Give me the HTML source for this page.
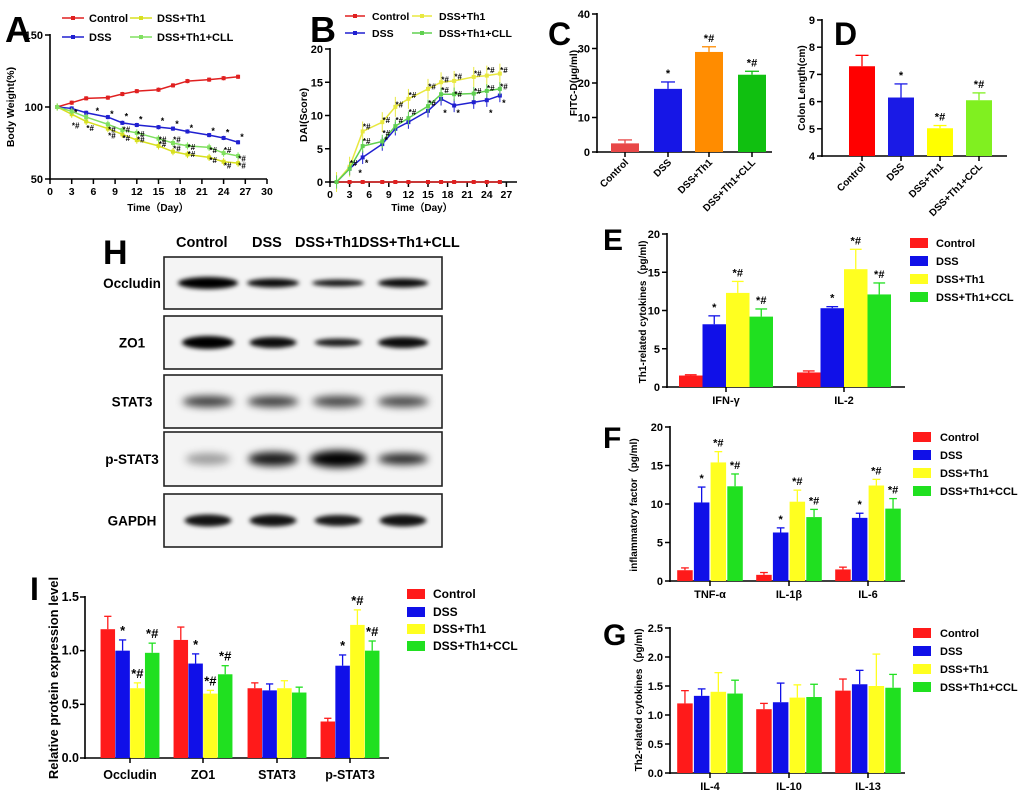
<!DOCTYPE html>
<html><head><meta charset="utf-8"><style>
body{margin:0;background:#fff}
svg{display:block;font-family:"Liberation Sans",Arial,sans-serif;font-weight:bold}
</style></head><body>
<svg id="s" width="1020" height="807" viewBox="0 0 1020 807" xmlns="http://www.w3.org/2000/svg">
<defs>
<filter id="bl" x="-30%" y="-100%" width="160%" height="300%"><feGaussianBlur stdDeviation="2.5 2"/></filter>
<filter id="bl2" x="-30%" y="-100%" width="160%" height="300%"><feGaussianBlur stdDeviation="4 4"/></filter>
</defs>
</svg>
<script>
const S=document.getElementById('s');const NS='http://www.w3.org/2000/svg';
function el(t,a,txt){const e=document.createElementNS(NS,t);for(const k in a)e.setAttribute(k,a[k]);if(txt!==undefined)e.textContent=txt;S.appendChild(e);return e;}
function line(x1,y1,x2,y2,c,w){el('line',{x1,y1,x2,y2,stroke:c||'#000','stroke-width':w||1.5});}
function text(x,y,t,sz,anchor,extra){const a=Object.assign({x,y,'font-size':sz||11,'text-anchor':anchor||'middle',fill:'#000'},extra||{});el('text',a,t);}
function yaxis(x,yT,yB,min,max,ticks,fmt,sz,gap){line(x,yT-1,x,yB+1,'#000',1.6);ticks.forEach(v=>{const y=yB-(v-min)/(max-min)*(yB-yT);line(x-5,y,x,y,'#000',1.5);text(x-(gap||7),y+4,fmt?fmt(v):String(v),sz||11,'end');});return v=>yB-(v-min)/(max-min)*(yB-yT);}
function big(x,y,t,sz){text(x,y,t,sz||34,'start',{'font-weight':'bold'});}
// ===== Panel A =====
big(5,42,'A',36);
(function(){const X=d=>50+d*(217/30);const Y=yaxis(50,35,179,50,150,[50,100,150]);
line(49,179,267,179,'#000',1.6);for(let d=0;d<=30;d+=3){line(X(d),179,X(d),184);text(X(d),195,String(d),10.5);}
text(158,211,'Time（Day）',10);
text(14,107,'Body Weight(%)',10.5,'middle',{transform:'rotate(-90 14 107)'});
const days=[1,3,5,8,10,12,15,17,19,22,24,26];
const ser=[['#e02020',[100,103,106,106.5,109,111,112,115,118,119,120,121],1.5],['#2020d0',[100,99,96,93,89,87.5,86,85,83,80.5,78.5,75.5],1.5],['#d8e020',[100,95,90,85,81,77,73,69,67,65,62,61],2.5],['#80e060',[100,97,93,88,84,82,78,75,73,72,68,66],2.5]];
ser.forEach(([c,v,e])=>{el('polyline',{points:days.map((d,i)=>X(d)+','+Y(v[i])).join(' '),fill:'none',stroke:c,'stroke-width':1.5});days.forEach((d,i)=>{line(X(d),Y(v[i]+e),X(d),Y(v[i]-e),c,1);el('rect',{x:X(d)-2,y:Y(v[i])-2,width:4,height:4,fill:c});});});
[[3,97],[6,98],[8,96],[10,94],[12,92],[15,91],[17,89],[19,86],[22,84],[24,83],[26,80]].forEach(([d,v])=>text(X(d)+4,Y(v)+4,'*',9));
[[3,88],[5,86],[8,81],[10,79],[12,78],[15,75],[17,72],[19,68],[22,64],[24,60],[26,60],[8,85],[10,85],[12,82],[15,78],[17,78],[19,73],[22,71],[24,71],[26,65]].forEach(([d,v])=>text(X(d)+4,Y(v)+4,'*#',8));
[['#e02020','Control',62,18],['#2020d0','DSS',62,37],['#d8e020','DSS+Th1',130,18],['#80e060','DSS+Th1+CLL',130,37]].forEach(([c,t,x,y])=>{line(x,y,x+22,y,c,1.5);el('rect',{x:x+9,y:y-2,width:4,height:4,fill:c});text(x+27,y+4,t,11,'start');});
})();
// ===== Panel B =====
big(310,42,'B',36);
(function(){const X=d=>330+d*(19.6/3);const Y=yaxis(330,49,182,0,20,[0,5,10,15,20]);
line(329,182,517,182,'#000',1.6);for(let d=0;d<=27;d+=3){line(X(d),182,X(d),187);text(X(d),198,String(d),10.5);}
text(422,211,'Time（Day）',10);
text(307,115,'DAI(Score)',10.5,'middle',{transform:'rotate(-90 307 115)'});
const days=[1,3,5,8,10,12,15,17,19,22,24,26];
const ser=[['#e02020',[0,0,0,0,0,0,0,0,0,0,0,0],0],['#2020d0',[0,2,3.7,5.7,8,9,10.7,12.5,11.5,12,12.3,13],1],['#e8e840',[0,2.3,7.6,9,11.3,12.5,14,15,15.2,15.8,16,16.3],1.5],['#60d050',[0,2,5.4,6.1,8.4,9.6,11.4,13.2,13.2,13.3,13.7,14],1]];
ser.forEach(([c,v,e])=>{el('polyline',{points:days.map((d,i)=>X(d)+','+Y(v[i])).join(' '),fill:'none',stroke:c,'stroke-width':1.5});days.forEach((d,i)=>{if(e)line(X(d),Y(v[i]+e),X(d),Y(v[i]-e),c,1);el('rect',{x:X(d)-2,y:Y(v[i])-2,width:4,height:4,fill:c});});});
[[3,3],[5,8.5],[8,9.5],[10,11.8],[12,13.2],[15,14.5],[17,15.6],[19,16],[22,16.5],[24,17],[26,17],[5,6.3],[8,7.5],[10,9.5],[12,10.7],[15,12],[17,14],[19,13.4],[22,13.8],[24,14.3],[26,14.5]].forEach(([d,v])=>text(X(d)+4,Y(v)+4,'*#',8));
[[4,1.5],[5,3],[8,6.5],[17,10.5],[19,10.5],[24,10.5],[26,12]].forEach(([d,v])=>text(X(d)+4,Y(v)+4,'*',9));
[['#e02020','Control',345,16],['#2020d0','DSS',345,33],['#e8e840','DSS+Th1',412,16],['#60d050','DSS+Th1+CLL',412,33]].forEach(([c,t,x,y])=>{line(x,y,x+20,y,c,1.5);el('rect',{x:x+8,y:y-2,width:4,height:4,fill:c});text(x+27,y+4,t,10.5,'start');});
})();
function bars(Y,list,w,lsz){list.forEach(([x,v,e,c,lab])=>{el('rect',{x:x-w/2,y:Y(v),width:w,height:Y.base-Y(v),fill:c});line(x,Y(v),x,Y(e),c,1.3);line(x-w/4,Y(e),x+w/4,Y(e),c,1.3);if(lab)text(x,Y(e)-5,lab,lsz||11);});}
// ===== C =====
big(548,45,'C',32);
(function(){const Y=yaxis(597,14,152,0,40,[0,10,20,30,40]);Y.base=152;line(596,152,772,152,'#000',1.6);
text(577,83,'FITC-D(μg/ml)',10,'middle',{transform:'rotate(-90 577 83)'});
bars(Y,[[625,2.5,3.5,'#e84848',''],[668,18.3,20.3,'#1616e6','*'],[709,29,30.5,'#ff8c00','*#'],[752,22.4,23.4,'#10c010','*#']],28);
[[625,'Control'],[668,'DSS'],[709,'DSS+Th1'],[752,'DSS+Th1+CLL']].forEach(([x,t])=>{line(x,152,x,157);text(x+4,163,t,10,'end',{transform:`rotate(-45 ${x+4} 163)`});});
})();
// ===== D =====
big(834,45,'D',32);
(function(){const Y=yaxis(822,20,156,4,9,[4,5,6,7,8,9]);Y.base=156;line(821,156,1007,156,'#000',1.6);
text(805,88,'Colon Length(cm)',10,'middle',{transform:'rotate(-90 805 88)'});
bars(Y,[[862,7.3,7.7,'#ff0000',''],[901,6.15,6.65,'#1a1ae6','*'],[940,5.02,5.12,'#ffff00','*#'],[979,6.05,6.32,'#80f020','*#']],26);
[[862,'Control'],[901,'DSS'],[940,'DSS+Th1'],[979,'DSS+Th1+CCL']].forEach(([x,t])=>{line(x,156,x,161);text(x+4,167,t,10,'end',{transform:`rotate(-45 ${x+4} 167)`});});
})();
const COL=['#ff1a1a','#1010e8','#ffff20','#20e020'];
function legend(x,ys,names,tx,sz){names.forEach((t,i)=>{el('rect',{x:x,y:ys[i]-5,width:18,height:10,fill:COL[i]});text(tx||x+26,ys[i]+4,t,sz||11,'start');});}
function grouped(yAx,groups,w,labY,sp,lsz,csz){groups.forEach(([cx,name,vals,errs,labs])=>{const off=[-1.5,-0.5,0.5,1.5];vals.forEach((v,i)=>{bars(yAx,[[cx+off[i]*(sp||w),v,errs[i],COL[i],labs[i]]],w,lsz);});line(cx,yAx.base,cx,yAx.base+5);text(cx,labY,name,csz||11);});}
// ===== E =====
big(603,250,'E',30);
(function(){const Y=yaxis(667,234,387,0,20,[0,5,10,15,20]);Y.base=387;line(666,387,905,387,'#000',1.6);
text(646,312,'Th1-related cytokines（pg/ml)',10,'middle',{transform:'rotate(-90 646 312)'});
grouped(Y,[[726,'IFN-γ',[1.5,8.2,12.3,9.2],[1.6,9.3,13.8,10.2],['','*','*#','*#']],[844,'IL-2',[1.9,10.3,15.4,12.1],[2.1,10.5,18,13.6],['','*','*#','*#']]],23.5,404);
legend(910,[243,261,279,297],['Control','DSS','DSS+Th1','DSS+Th1+CCL'],936);
})();
// ===== F =====
big(603,448,'F',30);
(function(){const Y=yaxis(670,427,581,0,20,[0,5,10,15,20]);Y.base=581;line(669,581,905,581,'#000',1.6);
text(637,505,'inflammatory factor（pg/ml)',10,'middle',{transform:'rotate(-90 637 505)'});
grouped(Y,[[710,'TNF-α',[1.4,10.2,15.4,12.3],[1.7,12.2,16.8,13.9],['','*','*#','*#']],[789,'IL-1β',[0.8,6.3,10.3,8.3],[1.1,6.9,11.8,9.3],['','*','*#','*#']],[868,'IL-6',[1.5,8.2,12.4,9.4],[1.8,8.8,13.2,10.7],['','*','*#','*#']]],15.5,598,16.7);
legend(913,[437,455,473,491],['Control','DSS','DSS+Th1','DSS+Th1+CCL'],940);
})();
// ===== G =====
big(603,645,'G',30);
(function(){const Y=yaxis(670,628,773,0,2.5,[0,0.5,1,1.5,2,2.5],v=>v.toFixed(1));Y.base=773;line(669,773,905,773,'#000',1.6);
text(642,700,'Th2-related cytokines（pg/ml)',10,'middle',{transform:'rotate(-90 642 700)'});
grouped(Y,[[710,'IL-4',[1.2,1.33,1.4,1.37],[1.42,1.45,1.73,1.6],['','','','']],[789,'IL-10',[1.1,1.22,1.3,1.31],[1.2,1.55,1.52,1.53],['','','','']],[868,'IL-13',[1.42,1.53,1.5,1.47],[1.62,1.77,2.05,1.7],['','','','']]],15.5,790,16.7);
legend(913,[633,651,669,687],['Control','DSS','DSS+Th1','DSS+Th1+CCL'],940);
})();
// ===== I =====
big(30,600,'I',32);
(function(){const Y=yaxis(85,597,758,0,1.5,[0,0.5,1,1.5],v=>v.toFixed(1),12.5,6);Y.base=758;line(84,758,389,758,'#000',1.6);
text(58,678,'Relative protein expression level',13,'middle',{transform:'rotate(-90 58 678)'});
grouped(Y,[[130,'Occludin',[1.2,1.0,0.65,0.98],[1.32,1.1,0.7,1.07],['','*','*#','*#']],[203,'ZO1',[1.1,0.88,0.6,0.78],[1.22,0.97,0.63,0.86],['','*','*#','*#']],[277,'STAT3',[0.65,0.63,0.65,0.61],[0.7,0.69,0.72,0.66],['','','','']],[350,'p-STAT3',[0.34,0.86,1.24,1.0],[0.37,0.96,1.38,1.09],['','*','*#','*#']]],14.5,779,14.8,13,12.5);
legend(407,[594,612,629,646],['Control','DSS','DSS+Th1','DSS+Th1+CCL'],433,12);
})();
// ===== H blot =====
big(103,264,'H',34);
[[176,'Control'],[252,'DSS'],[295,'DSS+Th1'],[359,'DSS+Th1+CLL']].forEach(([x,t])=>text(x,247,t,14.5,'start'));
const boxes=[[257,309,'Occludin',[[60,12,1],[52,9,0.95],[52,7,0.9],[50,9,0.95]]],[316,369,'ZO1',[[52,13,1],[47,11,0.95],[47,8,0.88],[50,11,0.95]]],[375,428,'STAT3',[[47,11,0.75],[47,11,0.75],[47,11,0.72],[47,11,0.7]]],[432,486,'p-STAT3',[[45,12,0.35],[50,14,0.9],[57,17,1],[50,11,0.85]]],[494,547,'GAPDH',[[47,12,0.92],[47,12,0.92],[47,11,0.9],[47,12,0.92]]]];
const lanes=[208,273,338,403];
boxes.forEach(([y1,y2,lab,b])=>{el('rect',{x:164,y:y1,width:278,height:y2-y1,fill:'#f4f4f4',stroke:'#222','stroke-width':1.6});
const cy=(y1+y2)/2;b.forEach(([w,h,o],i)=>{el('ellipse',{cx:lanes[i],cy:cy,rx:w/2+(lab=='STAT3'?2:0),ry:h/2,fill:'#000','fill-opacity':o,filter:lab=='STAT3'||lab=='p-STAT3'?'url(#bl2)':'url(#bl)'});});
text(132,cy+5,lab,13.5);});
</script>
</body></html>
